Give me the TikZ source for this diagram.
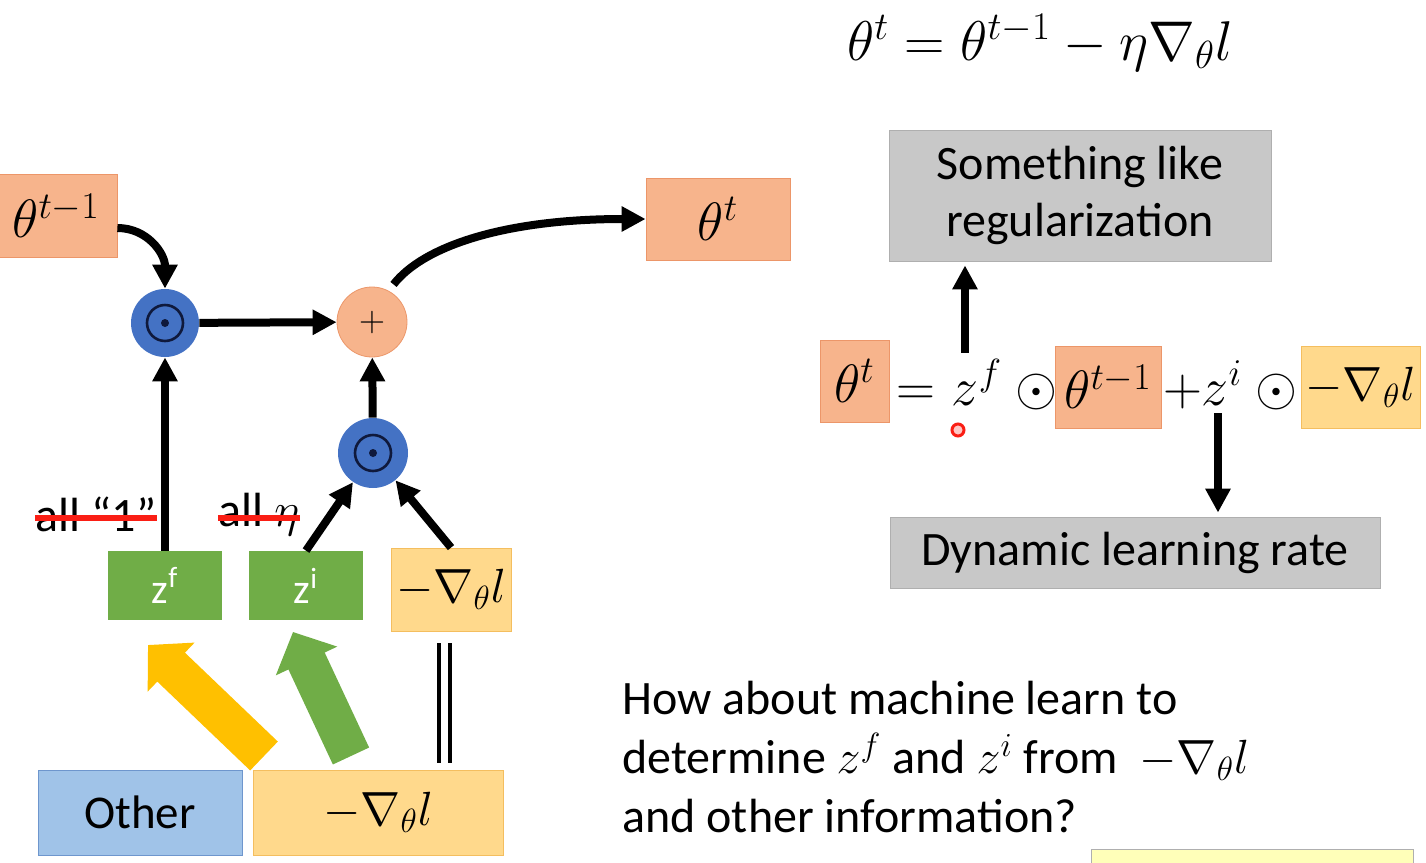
\RequirePackage{fix-cm}
\documentclass[tikz,border=0pt]{standalone}
\usepackage[no-math]{fontspec}
\setmainfont{Carlito}
\usetikzlibrary{arrows.meta,positioning,calc}
\definecolor{salmon}{RGB}{247,180,140}
\definecolor{salmonline}{RGB}{236,150,105}
\definecolor{opblue}{RGB}{68,114,196}
\definecolor{ringblue}{RGB}{15,25,60}
\definecolor{zgreen}{RGB}{112,173,71}
\definecolor{gradyellow}{RGB}{255,217,140}
\definecolor{gradline}{RGB}{244,190,95}
\definecolor{greybox}{RGB}{200,200,200}
\definecolor{greyline}{RGB}{175,175,175}
\definecolor{otherblue}{RGB}{160,195,232}
\definecolor{otherline}{RGB}{110,150,205}
\definecolor{fatyellow}{RGB}{255,192,0}
\definecolor{strikered}{RGB}{250,30,20}
\definecolor{notepale}{RGB}{255,255,185}
\begin{document}
\begin{tikzpicture}[x=0.5pt,y=-0.5pt,
  arr/.style={line width=4pt,-{Triangle[length=12pt,width=12pt]}},
  fat/.style={line width=20pt,-{Triangle[length=16pt,width=33pt]}},
  obox/.style={draw=salmonline,fill=salmon,inner sep=0pt,font=\fontsize{27}{30}\selectfont},
  ybox/.style={draw=gradline,fill=gradyellow,inner sep=0pt,font=\fontsize{24}{28}\selectfont},
  zbox/.style={fill=zgreen,text=white,inner sep=0pt,minimum width=57pt,minimum height=34.5pt,font=\fontsize{21}{24}\selectfont},
  gbox/.style={draw=greyline,fill=greybox,inner sep=0pt,align=center,font=\fontsize{24}{28.5}\selectfont},
  opnode/.style={circle,fill=opblue,minimum size=34pt,inner sep=0pt},
  strike/.style={strikered,line width=3pt}]
  \useasboundingbox (0,0) rectangle (1426,863);
  \clip (0,0) rectangle (1426,863);

  % left: update as a network
  \node[obox,minimum width=61pt,minimum height=41.5pt] (tprev) at (56,216) {$\theta^{t-1}$};
  \node[obox,minimum width=72pt,minimum height=41pt] (tnew) at (718,219) {$\theta^t$};
  \node[opnode] (mf) at (165,323) {};
  \node[circle,draw=salmonline,fill=salmon,minimum size=35pt,inner sep=0pt,font=\fontsize{18}{18}\selectfont] (plus) at (372,322) {$+$};
  \node[opnode,minimum size=35pt] (mi) at (373,453) {};
  \foreach \m in {mf,mi} {
    \draw[line width=1.3pt,ringblue] (\m.center) circle (18);
    \fill[ringblue] (\m.center) circle (4);
  }
  \node[zbox] (zf) at (165,585.5) {z\textsuperscript{f}};
  \node[zbox] (zi) at (306,585.5) {z\textsuperscript{i}};
  \node[ybox,minimum width=60pt,minimum height=41.5pt] (gA) at (451,589.5) {$-\nabla_\theta l$};
  \node[draw=otherline,fill=otherblue,minimum width=102pt,minimum height=42.5pt,font=\fontsize{23.5}{26}\selectfont] (other) at (140,812.5) {Other};
  \node[ybox,minimum width=125pt,minimum height=42.5pt] (gB) at (378,812.5) {$-\nabla_\theta l$};

  \node[inner sep=0pt,font=\fontsize{24}{26}\selectfont] (allone) at (96,514) {all “1”};
  \node[inner sep=0pt,font=\fontsize{24}{26}\selectfont] (alleta) at (259,514) {all $\eta$};
  \draw[strike] ([yshift=-2pt]allone.west) -- ([yshift=-2pt]allone.east);
  \draw[strike] ([yshift=-2pt]alleta.west) -- ([yshift=-2pt]alleta.east);

  \draw[arr] ([yshift=-6pt]tprev.east) .. controls +(30,0) and +(0,-35) .. (mf.north);
  \draw[arr] (mf) -- (plus);
  \draw[arr] (mi) -- (plus);
  \draw[arr,shorten <=4pt] (plus.62) .. controls +(35,-45) and +(-140,0) .. (tnew.west);
  \draw[arr] (zf) -- (mf);
  \draw[arr] (zi.north) -- (mi);
  \draw[arr] (gA.north) -- (mi);
  \draw[line width=2pt,double distance=3.5pt,shorten <=6pt,shorten >=3.5pt]
    ([xshift=-3.5pt]gA.south) -- ([xshift=-3.5pt]gA.south |- gB.north);

  \coordinate (ytail) at (264,756);
  \coordinate (ytip) at (148,645);
  \coordinate (gtail) at (351,756);
  \coordinate (gtip) at (293,632);
  \draw[fat,fatyellow] (ytail) -- (ytip);
  \draw[fat,zgreen] (gtail) -- (gtip);

  % right: the same update written out
  \node[anchor=base,font=\fontsize{28}{32}\selectfont] (upd) at (1040,60) {$\theta^t = \theta^{t-1} - \eta\nabla_\theta l$};
  \node[gbox,minimum width=191pt,minimum height=65.5pt] (reg) at (1080,195.5) {Something like\\regularization};
  \node[gbox,minimum width=245pt,minimum height=35.5pt] (dyn) at (1135,552.5) {Dynamic learning rate};

  \node[obox,minimum width=34.5pt,minimum height=41pt] (eqth) at (854.5,381) {$\theta^t$};
  \node[obox,minimum width=53pt,minimum height=41pt] (eqprev) at (1108,387) {$\theta^{t-1}$};
  \node[ybox,minimum width=59.5pt,minimum height=41pt] (eqgrad) at (1360.5,387) {$-\nabla_\theta l$};
  \begin{scope}[every node/.style={anchor=base,inner sep=0pt,font=\fontsize{27}{30}\selectfont}]
    \node (eqeq) at (916,405) {$=$};
    \node (eqzf) at (977,405) {$z^f$};
    \node (eqoa) at (1036,405) {$\odot$};
    \node (eqplus) at (1183,405) {$+$};
    \node (eqzi) at (1222,405) {$z^i$};
    \node (eqob) at (1276,405) {$\odot$};
  \end{scope}
  \draw[arr,shorten >=2pt] ([xshift=-6pt,yshift=3pt]eqzf.north) -- ([xshift=-6pt]eqzf.north |- reg.south);
  \draw[arr,shorten >=2pt] ([xshift=-2pt,yshift=-4pt]eqzi.south) -- ([xshift=-2pt]eqzi.south |- dyn.north);
  \draw[strikered,line width=1.5pt,fill=strikered!25] (958,430) circle (6);

  \node[anchor=north west,align=left,inner sep=0pt,font=\fontsize{24}{29.5}\selectfont] (ask) at (622,681)
    {How about machine learn to\\determine $z^f$ and $z^i$ from \ $-\nabla_\theta l$\\and other information?};
  \draw[greyline,fill=notepale] (1091,849) rectangle (1413,900);
\end{tikzpicture}
\end{document}
